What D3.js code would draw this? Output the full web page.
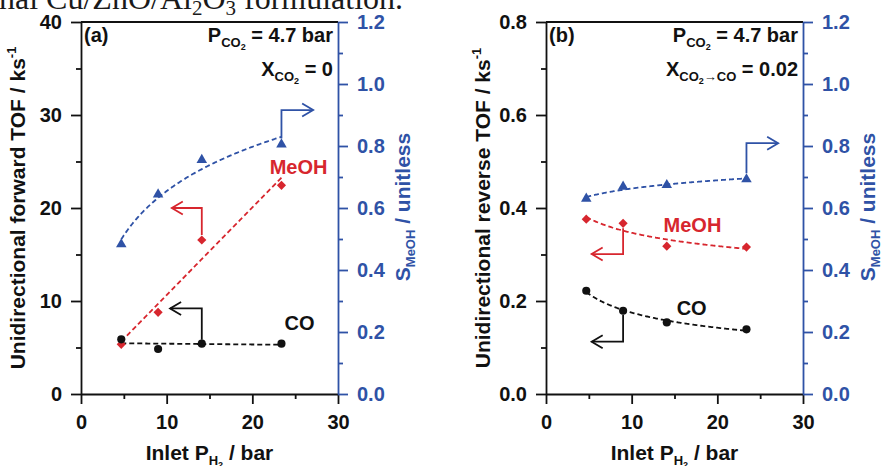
<!DOCTYPE html>
<html>
<head>
<meta charset="utf-8">
<script src="https://cdn.jsdelivr.net/npm/d3@7/dist/d3.min.js"></script>
<style>
  html, body { margin: 0; padding: 0; background: #fff; }
  svg text { font-family: "Liberation Sans", Arial, Helvetica, sans-serif; font-weight: bold; }
  .caption { font-family: "Liberation Serif", "Times New Roman", serif !important; font-weight: normal !important; }
</style>
</head>
<body>
<script>
// Inlet H2 partial pressure (bar), shared by both panels
const inletH2 = [4.7, 9.0, 14.1, 23.4];

// Panel (a): unidirectional forward TOF (ks^-1) and methanol selectivity
const forwardCO   = [5.88, 4.84, 5.41, 5.41];
const forwardMeOH = [5.34, 8.78, 16.56, 22.44];
const selectivityA = [0.483, 0.644, 0.755, 0.805];

// Panel (b): unidirectional reverse TOF (ks^-1) and methanol selectivity
const reverseCO   = [0.222, 0.179, 0.154, 0.139];
const reverseMeOH = [0.376, 0.367, 0.318, 0.316];
const selectivityB = [0.630, 0.669, 0.674, 0.6925];

// Tick values
const xTicks = [0, 10, 20, 30];
const xMinor = [5, 15, 25];
const yTicksA = [0, 10, 20, 30, 40];
const yMinorA = [5, 15, 25, 35];
const yTicksB = [0, 0.2, 0.4, 0.6, 0.8];
const yMinorB = [0.1, 0.3, 0.5, 0.7];
const sTicks = [0, 0.2, 0.4, 0.6, 0.8, 1.0, 1.2];
const sMinor = [0.1, 0.3, 0.5, 0.7, 0.9, 1.1];

const BLACK = "#111";
const RED = "#d7262e";
const BLUE = "#2f52a6";

const W = 883, H = 466;
const svg = d3.select("body").append("svg").attr("width", W).attr("height", H);

// Least-squares trend lines
function linearFit(xs, ys) {
  const mx = d3.mean(xs), my = d3.mean(ys);
  const sxy = d3.sum(xs, (x, i) => (x - mx) * (ys[i] - my));
  const sxx = d3.sum(xs, x => (x - mx) ** 2);
  const b = sxy / sxx, a = my - b * mx;
  return x => a + b * x;
}
function logFit(xs, ys) {
  const f = linearFit(xs.map(Math.log), ys);
  return x => f(Math.log(x));
}
function powerFit(xs, ys) {
  const f = linearFit(xs.map(Math.log), ys.map(Math.log));
  return x => Math.exp(f(Math.log(x)));
}

// Caption fragment running above the figure
const cap = svg.append("text").attr("class", "caption")
  .attr("x", -1).attr("y", 8.5).attr("font-size", 32).attr("fill", "#1a1a1a");
cap.append("tspan").text("nal Cu/ZnO/Al");
cap.append("tspan").attr("font-size", 21).attr("dy", 6).text("2");
cap.append("tspan").attr("dy", -6).text("O");
cap.append("tspan").attr("font-size", 21).attr("dy", 6).text("3");
cap.append("tspan").attr("dy", -6).text(" formulation.");

function styleAxis(g, color) {
  g.selectAll("path.domain").attr("stroke", color).attr("stroke-width", 1.8);
  g.selectAll(".tick line").attr("stroke", color).attr("stroke-width", 1.8);
  g.selectAll(".tick text").attr("fill", color).attr("font-size", 20)
    .attr("font-family", '"Liberation Sans", Arial, sans-serif').attr("font-weight", "bold");
}

function bentArrow(g, pts, color) {
  // pts: pixel polyline; arrowhead at last point
  g.append("path").attr("d", d3.line()(pts))
    .attr("fill", "none").attr("stroke", color).attr("stroke-width", 1.8);
  const [x1, y1] = pts[pts.length - 2], [x2, y2] = pts[pts.length - 1];
  const ang = Math.atan2(y2 - y1, x2 - x1);
  const L = 11, Hh = 6.5;
  const back = [x2 - L * Math.cos(ang), y2 - L * Math.sin(ang)];
  const nx = -Math.sin(ang), ny = Math.cos(ang);
  g.append("path")
    .attr("d", d3.line()([[back[0] + nx * Hh, back[1] + ny * Hh], [x2, y2], [back[0] - nx * Hh, back[1] - ny * Hh]]))
    .attr("fill", "none").attr("stroke", color).attr("stroke-width", 1.8);
}

function drawPanel(cfg) {
  const g = svg.append("g");
  const x = d3.scaleLinear().domain([0, 30]).range([cfg.left, cfg.right]);
  const y = d3.scaleLinear().domain([0, cfg.yMax]).range([cfg.bottom, cfg.top]);
  const s = d3.scaleLinear().domain([0, 1.2]).range([cfg.bottom, cfg.top]);

  // top frame line
  g.append("line").attr("x1", x(0)).attr("x2", x(30)).attr("y1", y(cfg.yMax)).attr("y2", y(cfg.yMax))
    .attr("stroke", BLACK).attr("stroke-width", 1.8);

  // bottom axis
  const gx = g.append("g").attr("transform", `translate(0,${cfg.bottom})`)
    .call(d3.axisBottom(x).tickValues(xTicks).tickSize(10).tickSizeOuter(0).tickPadding(11).tickFormat(d3.format("d")));
  styleAxis(gx, BLACK);
  const gxm = g.append("g").attr("transform", `translate(0,${cfg.bottom})`)
    .call(d3.axisBottom(x).tickValues(xMinor).tickSize(5).tickFormat(""));
  gxm.select(".domain").remove();
  styleAxis(gxm, BLACK);

  // left axis
  const gy = g.append("g").attr("transform", `translate(${cfg.left},0)`)
    .call(d3.axisLeft(y).tickValues(cfg.yTicks).tickSize(10).tickSizeOuter(0).tickPadding(9).tickFormat(cfg.yFormat));
  styleAxis(gy, BLACK);
  const gym = g.append("g").attr("transform", `translate(${cfg.left},0)`)
    .call(d3.axisLeft(y).tickValues(cfg.yMinor).tickSize(5).tickFormat(""));
  gym.select(".domain").remove();
  styleAxis(gym, BLACK);

  // right axis (selectivity)
  const gs = g.append("g").attr("transform", `translate(${cfg.right},0)`)
    .call(d3.axisRight(s).tickValues(sTicks).tickSize(10).tickSizeOuter(0).tickPadding(9).tickFormat(d3.format(".1f")));
  styleAxis(gs, BLUE);
  const gsm = g.append("g").attr("transform", `translate(${cfg.right},0)`)
    .call(d3.axisRight(s).tickValues(sMinor).tickSize(5).tickFormat(""));
  gsm.select(".domain").remove();
  styleAxis(gsm, BLUE);

  // axis titles
  const midY = (cfg.top + cfg.bottom) / 2;
  const lt = g.append("text").attr("transform", `translate(${cfg.left - 56},${midY}) rotate(-90)`)
    .attr("text-anchor", "middle").attr("font-size", 21).attr("fill", BLACK);
  lt.append("tspan").text(cfg.yTitle);
  lt.append("tspan").attr("font-size", 13).attr("dy", -9).text("-1");

  const rt = g.append("text").attr("transform", `translate(${cfg.right + 72},${midY - 1}) rotate(-90)`)
    .attr("text-anchor", "middle").attr("font-size", 21).attr("fill", BLUE);
  rt.append("tspan").text("S");
  rt.append("tspan").attr("font-size", 13).attr("dy", 5).text("MeOH");
  rt.append("tspan").attr("dy", -5).text(" / unitless");

  const xt = g.append("text").attr("x", (cfg.left + cfg.right) / 2).attr("y", 460)
    .attr("text-anchor", "middle").attr("font-size", 21).attr("fill", BLACK);
  xt.append("tspan").text("Inlet P");
  xt.append("tspan").attr("font-size", 13).attr("dy", 5).text("H");
  xt.append("tspan").attr("font-size", 9).attr("dy", 3).text("2");
  xt.append("tspan").attr("dy", -8).text(" / bar");

  // panel letter and conditions
  g.append("text").attr("x", cfg.left + 3).attr("y", 42).attr("font-size", 20).attr("fill", BLACK).text(cfg.letter);
  const p1 = g.append("text").attr("x", cfg.right - 5).attr("y", 42).attr("text-anchor", "end")
    .attr("font-size", 20).attr("fill", BLACK);
  p1.append("tspan").text("P");
  p1.append("tspan").attr("font-size", 13).attr("dy", 5).text("CO");
  p1.append("tspan").attr("font-size", 9).attr("dy", 3).text("2");
  p1.append("tspan").attr("dy", -8).text(" = 4.7 bar");
  const p2 = g.append("text").attr("x", cfg.right - 5).attr("y", 76).attr("text-anchor", "end")
    .attr("font-size", 20).attr("fill", BLACK);
  p2.append("tspan").text("X");
  p2.append("tspan").attr("font-size", 13).attr("dy", 5).text("CO");
  p2.append("tspan").attr("font-size", 9).attr("dy", 3).text("2");
  if (cfg.convSub) p2.append("tspan").attr("font-size", 13).attr("dy", -3).text(cfg.convSub);
  p2.append("tspan").attr("dy", cfg.convSub ? -5 : -8).text(" = " + cfg.conversion);

  // trend lines
  const xs = d3.range(inletH2[0], inletH2[inletH2.length - 1] + 1e-9, 0.1);
  cfg.series.forEach(sr => {
    const sc = sr.axis === "s" ? s : y;
    const f = sr.fit(inletH2, sr.values);
    g.append("path")
      .attr("d", d3.line().x(d => x(d)).y(d => sc(f(d)))(xs))
      .attr("fill", "none").attr("stroke", sr.color).attr("stroke-width", 1.8)
      .attr("stroke-dasharray", "5,3");
  });

  // markers
  cfg.series.forEach(sr => {
    const sc = sr.axis === "s" ? s : y;
    g.selectAll(null).data(sr.values).join("path")
      .attr("transform", (d, i) => `translate(${x(inletH2[i])},${sc(d)}) rotate(${sr.rot || 0})`)
      .attr("d", d3.symbol().type(sr.symbol).size(sr.size))
      .attr("fill", sr.color);
  });

  // arrows pointing to each series' axis
  cfg.arrows.forEach(a => {
    const sc = a.axis === "s" ? s : y;
    const px = x(inletH2[a.idx]);
    const py = sc(a.from) + a.gap;
    bentArrow(g, [[px, py], [px, sc(a.bend)], [x(a.xEnd), sc(a.bend)]], a.color);
  });

  // series labels
  cfg.labels.forEach(l => {
    g.append("text").attr("x", x(l.x)).attr("y", y(l.y)).attr("text-anchor", "middle")
      .attr("font-size", 20).attr("fill", l.color).text(l.text);
  });
}

drawPanel({
  left: 81, right: 338, top: 22, bottom: 394,
  yMax: 40, yTicks: yTicksA, yMinor: yMinorA, yFormat: d3.format("d"),
  yTitle: "Unidirectional forward TOF / ks", letter: "(a)", conversion: "0", convSub: null,
  series: [
    { values: selectivityA, axis: "s", color: BLUE, symbol: d3.symbolTriangle, size: 48, fit: logFit },
    { values: forwardMeOH, axis: "y", color: RED, symbol: d3.symbolSquare, size: 42, rot: 45, fit: linearFit },
    { values: forwardCO, axis: "y", color: BLACK, symbol: d3.symbolCircle, size: 52, fit: linearFit }
  ],
  arrows: [
    { idx: 3, axis: "s", from: selectivityA[3], gap: -6, bend: 0.916, xEnd: 27.1, color: BLUE },
    { idx: 2, axis: "y", from: forwardMeOH[2], gap: -5, bend: 20.0, xEnd: 10.6, color: RED },
    { idx: 2, axis: "y", from: forwardCO[2], gap: -4, bend: 9.2, xEnd: 10.4, color: BLACK }
  ],
  labels: [
    { text: "MeOH", x: 25.4, y: 23.7, color: RED },
    { text: "CO", x: 25.5, y: 6.9, color: BLACK }
  ]
});

drawPanel({
  left: 546, right: 803, top: 22, bottom: 394,
  yMax: 0.8, yTicks: yTicksB, yMinor: yMinorB, yFormat: d3.format(".1f"),
  yTitle: "Unidirectional reverse TOF / ks", letter: "(b)", conversion: "0.02", convSub: "\u2192CO",
  series: [
    { values: selectivityB, axis: "s", color: BLUE, symbol: d3.symbolTriangle, size: 48, fit: powerFit },
    { values: reverseMeOH, axis: "y", color: RED, symbol: d3.symbolSquare, size: 42, rot: 45, fit: powerFit },
    { values: reverseCO, axis: "y", color: BLACK, symbol: d3.symbolCircle, size: 52, fit: powerFit }
  ],
  arrows: [
    { idx: 3, axis: "s", from: selectivityB[3], gap: -6, bend: 0.809, xEnd: 27.1, color: BLUE },
    { idx: 1, axis: "y", from: reverseMeOH[1], gap: 5, bend: 0.301, xEnd: 5.33, color: RED },
    { idx: 1, axis: "y", from: reverseCO[1], gap: 4, bend: 0.1125, xEnd: 5.33, color: BLACK }
  ],
  labels: [
    { text: "MeOH", x: 17.1, y: 0.348, color: RED },
    { text: "CO", x: 17.0, y: 0.17, color: BLACK }
  ]
});
</script>
</body>
</html>
